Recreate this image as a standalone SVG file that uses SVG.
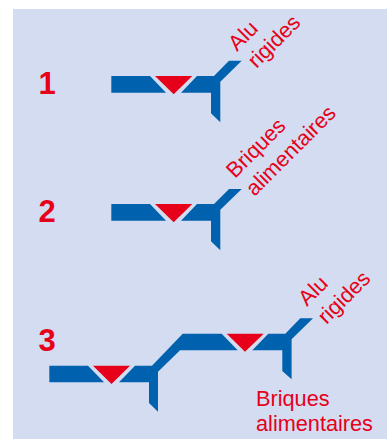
<svg xmlns="http://www.w3.org/2000/svg" width="387" height="439" viewBox="0 0 387 439">
<style>
.b{fill:#0061ae}
.r{fill:#e60019}
text{fill:#e60019;font-family:"Liberation Sans",Arial,sans-serif}
.n{font-size:31px;font-weight:bold}
.l{font-size:21.7px}
</style>
<rect width="387" height="439" fill="#fff"/>
<rect x="13" y="9" width="374" height="430" fill="#d3dcf0"/>
<g id="connectors">
<path class="b" d="M111.3 76H150L166 92.7H111.3Z"/>
<path class="b" d="M197 76H214L229 60.7H241.7L220.3 81.7V122.3L211 113.3V92.7H181Z"/>
<path class="b" d="M111.3 204H150L166 220.7H111.3Z"/>
<path class="b" d="M197 204H214L229 188.9H241.7L220.3 209.7V250.3L211 241.3V220.7H181Z"/>
<path class="b" d="M49.3 365.7H88L104 382.3H49.3Z"/>
<path class="b" d="M135 365.7H152L182.7 333.7H221.7L237.7 350.3H180L158 371.7V411.7L149 403V382.3H119Z"/>
<path class="b" d="M268.3 333.7H285.3L300.3 318.3H313L291.6 339.3V379.3L282.3 371V350.3H252.3Z"/>
</g>
<g id="valve-1"><path class="r" d="M155 76H192.3L173.7 94.3Z"/></g>
<g id="valve-2"><path class="r" d="M155 204H192.3L173.7 222.3Z"/></g>
<g id="valve-3"><path class="r" d="M226.7 333.7H263.7L245 351.7Z"/></g>
<g id="valve-4"><path class="r" d="M93 365.7H130L111.5 384Z"/></g>
<g id="label-1"><text class="n" x="38.5" y="94">1</text></g>
<g id="label-2"><text class="n" x="38.5" y="222">2</text></g>
<g id="label-3"><text class="n" x="38.5" y="351">3</text></g>
<g id="text-1">
<text class="l" transform="translate(237 52) rotate(-45)">Alu</text>
<text class="l" transform="translate(256.5 69) rotate(-45)">rigides</text>
</g>
<g id="text-2">
<text class="l" transform="translate(235 179) rotate(-45)">Briques</text>
<text class="l" transform="translate(254.5 197) rotate(-45)">alimentaires</text>
</g>
<g id="text-3">
<text class="l" transform="translate(307 307) rotate(-45)">Alu</text>
<text class="l" transform="translate(326.5 325) rotate(-45)">rigides</text>
<text class="l" x="256" y="405.5">Briques</text>
<text class="l" x="256" y="431">alimentaires</text>
</g>
</svg>
